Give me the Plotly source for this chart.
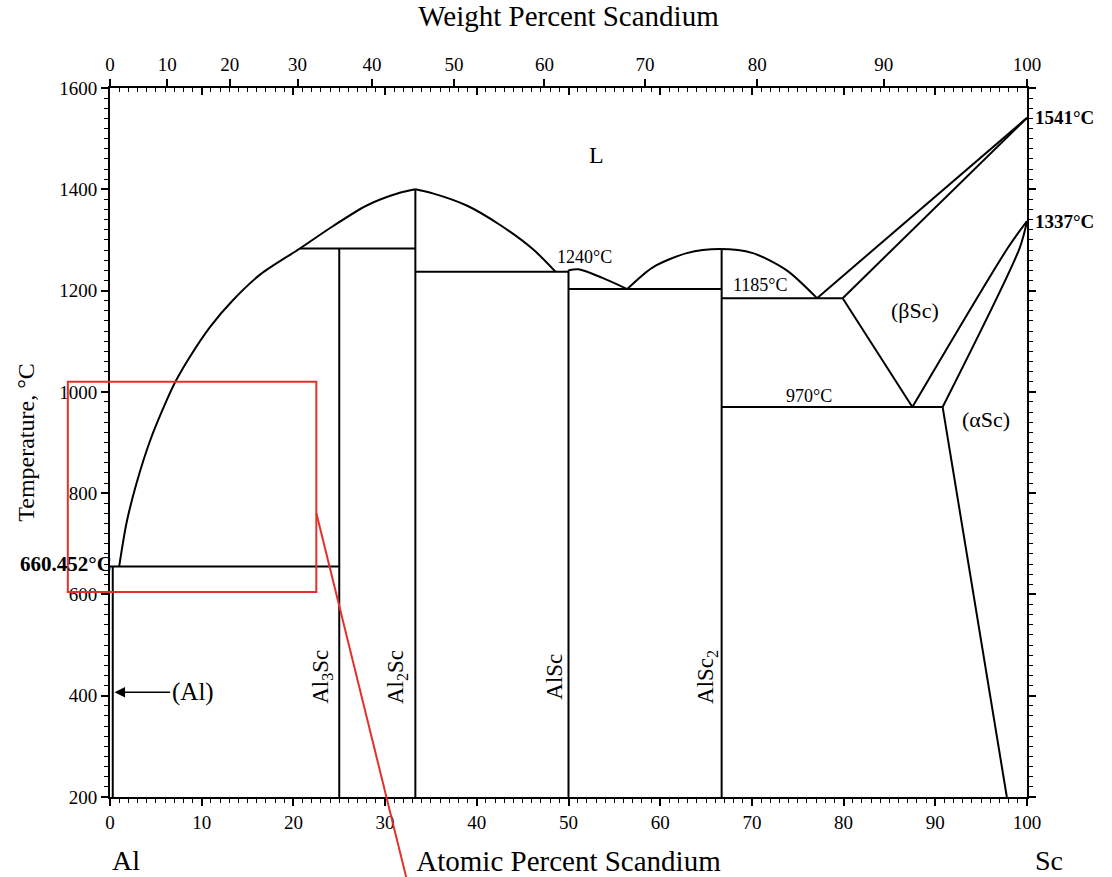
import plotly.graph_objects as go

# ---------------- data (atomic % Sc, temperature °C) ----------------
# Al-rich liquidus up to the Al2Sc maximum
liq_al_x = [1.0, 1.8, 2.9, 4.4, 6.2, 7.1, 8.7, 10.9, 13.4, 16.4, 20.7, 24.3, 28.0, 31.6, 33.3]
liq_al_T = [655, 741, 820, 905, 984, 1019, 1069, 1128, 1181, 1232, 1283, 1327, 1368, 1393, 1400]
# Al2Sc liquidus, Sc-rich side
liq_al2sc_x = [33.3, 35.2, 38.9, 42.5, 46.1, 48.6]
liq_al2sc_T = [1400, 1392, 1368, 1330, 1282, 1237]
# AlSc liquidus
liq_alsc_x = [50.0, 51.1, 53.7, 56.4]
liq_alsc_T = [1240, 1242, 1225, 1203]
# AlSc2 liquidus dome
liq_alsc2_x = [56.4, 59.2, 62.9, 66.5, 70.1, 73.8, 77.1]
liq_alsc2_T = [1203, 1246, 1274, 1282, 1274, 1240, 1185]
# (betaSc) liquidus and solidus
liq_bsc_x = [77.1, 100.0]
liq_bsc_T = [1185, 1541]
sol_bsc_x = [79.9, 100.0]
sol_bsc_T = [1185, 1541]
# (betaSc) solvus toward eutectoid
solv_bsc_x = [79.9, 87.5]
solv_bsc_T = [1185, 970]
# beta/alpha transus boundaries
ba1_x = [87.5, 97.9, 100.0]
ba1_T = [970, 1284, 1337]
ba2_x = [90.8, 99.2, 100.0]
ba2_T = [970, 1284, 1337]
# (alphaSc) solvus
solv_asc_x = [90.8, 97.8]
solv_asc_T = [970, 200]
# (Al) solvus
solv_al_x = [0.3, 0.3]
solv_al_T = [200, 655]

# invariant isotherms: start x, end x, temperature
iso_x0 = [0.0, 20.7, 33.3, 50.0, 66.7, 66.7]
iso_x1 = [25.0, 33.3, 50.0, 66.7, 79.9, 90.8]
iso_T = [655, 1283, 1237, 1203, 1185, 970]

# line compounds: composition, top temperature
cmp_x = [25.0, 33.3, 50.0, 66.7]
cmp_Ttop = [1283, 1400, 1240, 1282]
cmp_names = ["Al<sub>3</sub>Sc", "Al<sub>2</sub>Sc", "AlSc", "AlSc<sub>2</sub>"]
cmp_label_x = [23.1, 31.3, 48.5, 65.1]
cmp_label_T = [437, 437, 437, 437]

# region / point labels
lab_text = ["L", "1240°C", "1185°C", "970°C", "(βSc)", "(αSc)"]
lab_x = [53.1, 51.7, 70.9, 76.2, 87.8, 95.5]
lab_T = [1468, 1266, 1211, 992, 1160, 946]
lab_size = [24, 18, 18, 18, 22, 22]

# axis ticks
wt_ticks = [0, 10, 20, 30, 40, 50, 60, 70, 80, 90, 100]
AW_AL, AW_SC = 26.982, 44.956

# zoom-box (annotation overlay)
box_at = [-4.6, 22.5]
box_T = [605, 1020]
pointer_at = [22.5, 32.3]

FONT = "Liberation Serif"
X_MIN, X_MAX = 0, 100
T_MIN, T_MAX = 200, 1600


def wt_to_at(w):
    a = w / AW_SC
    b = (100 - w) / AW_AL
    return 100 * a / (a + b)


def seg_lines(xs0, xs1, ys0, ys1):
    xx, yy = [], []
    for a, b, c, d in zip(xs0, xs1, ys0, ys1):
        xx += [a, b, None]
        yy += [c, d, None]
    return xx, yy


fig = go.Figure()


def add(x, y, name, smooth=False):
    ln = dict(color="black", width=2)
    if smooth:
        ln.update(shape="spline", smoothing=0.8)
    fig.add_trace(go.Scatter(x=x, y=y, mode="lines", line=ln, name=name,
                             showlegend=False, hoverinfo="skip"))


add(liq_al_x, liq_al_T, "liquidus Al side", True)
add(liq_al2sc_x, liq_al2sc_T, "liquidus Al2Sc", True)
add(liq_alsc_x, liq_alsc_T, "liquidus AlSc", True)
add(liq_alsc2_x, liq_alsc2_T, "liquidus AlSc2", True)
add(liq_bsc_x, liq_bsc_T, "liquidus bSc")
add(sol_bsc_x, sol_bsc_T, "solidus bSc")
add(solv_bsc_x, solv_bsc_T, "solvus bSc")
add(ba1_x, ba1_T, "b/a 1", True)
add(ba2_x, ba2_T, "b/a 2", True)
add(solv_asc_x, solv_asc_T, "solvus aSc")
add(solv_al_x, solv_al_T, "solvus Al")
ix, iy = seg_lines(iso_x0, iso_x1, iso_T, iso_T)
add(ix, iy, "isotherms")
cx, cy = seg_lines(cmp_x, cmp_x, [T_MIN] * len(cmp_x), cmp_Ttop)
add(cx, cy, "compounds")

# invisible helper traces so the top axes get drawn
for ax in ["x2", "x3"]:
    fig.add_trace(go.Scatter(x=[X_MIN, X_MAX], y=[T_MIN, T_MIN], xaxis=ax, yaxis="y",
                             mode="lines", line=dict(width=0), opacity=0,
                             showlegend=False, hoverinfo="skip"))

tickfont = dict(family=FONT, size=19, color="black")

fig.update_layout(
    width=1112, height=877,
    margin=dict(l=110, r=85, t=88, b=80),
    paper_bgcolor="white", plot_bgcolor="white",
    font=dict(family=FONT, color="black"),
    xaxis=dict(
        range=[X_MIN, X_MAX], tickmode="linear", tick0=0, dtick=10, automargin=False,
        ticks="outside", ticklen=7, tickwidth=1.5, tickcolor="black",
        minor=dict(tickmode="linear", tick0=0, dtick=1, ticklen=4, tickwidth=1,
                   tickcolor="black", ticks="outside"),
        showline=True, linewidth=2, linecolor="black", mirror=True,
        showgrid=False, zeroline=False, tickfont=tickfont,
        title=dict(text="Atomic Percent Scandium", font=dict(family=FONT, size=29), standoff=22),
    ),
    xaxis2=dict(
        overlaying="x", side="top", anchor="y", range=[X_MIN, X_MAX], automargin=False,
        tickmode="array", tickvals=[wt_to_at(w) for w in wt_ticks],
        ticktext=[str(w) for w in wt_ticks],
        ticks="outside", ticklen=8, tickwidth=1.5, tickcolor="black",
        showgrid=False, zeroline=False, showline=False, tickfont=tickfont,
        title=dict(text="Weight Percent Scandium", font=dict(family=FONT, size=29), standoff=20),
    ),
    xaxis3=dict(
        overlaying="x", side="top", anchor="y", range=[X_MIN, X_MAX], automargin=False,
        tickmode="linear", tick0=0, dtick=10, ticks="inside", ticklen=7, tickwidth=1.5,
        tickcolor="black",
        minor=dict(tickmode="linear", tick0=0, dtick=1, ticklen=4, tickwidth=1,
                   tickcolor="black", ticks="inside"),
        showticklabels=False, showgrid=False, zeroline=False, showline=False,
    ),
    yaxis=dict(
        range=[T_MIN, T_MAX], tickmode="linear", tick0=200, dtick=200, automargin=False,
        ticks="outside", ticklen=7, tickwidth=1.5, tickcolor="black",
        minor=dict(tickmode="linear", tick0=200, dtick=20, ticklen=4, tickwidth=1,
                   tickcolor="black", ticks="outside"),
        showline=True, linewidth=2, linecolor="black", mirror="ticks",
        showgrid=False, zeroline=False, tickfont=tickfont,
        title=dict(text="Temperature, °C", font=dict(family=FONT, size=24), standoff=18),
    ),
)

ann = []
for t, x, y, s in zip(lab_text, lab_x, lab_T, lab_size):
    ann.append(dict(x=x, y=y, xref="x", yref="y", text=t, showarrow=False,
                    font=dict(family=FONT, size=s, color="black")))
for t, x, y in zip(cmp_names, cmp_label_x, cmp_label_T):
    ann.append(dict(x=x, y=y, xref="x", yref="y", text=t, showarrow=False, textangle=-90,
                    font=dict(family=FONT, size=23, color="black")))
# temperature marks outside the frame
ann.append(dict(x=0.004, y=660.452, xref="paper", yref="y", text="<b>660.452°C</b>",
                xanchor="right", yanchor="middle", showarrow=False,
                font=dict(family=FONT, size=21, color="black")))
ann.append(dict(x=1.006, y=1541, xref="paper", yref="y", text="<b>1541°C</b>",
                xanchor="left", yanchor="middle", showarrow=False,
                font=dict(family=FONT, size=19, color="black")))
ann.append(dict(x=1.006, y=1337, xref="paper", yref="y", text="<b>1337°C</b>",
                xanchor="left", yanchor="middle", showarrow=False,
                font=dict(family=FONT, size=19, color="black")))
# (Al) with arrow to the Al axis
ann.append(dict(x=0.5, y=407, xref="x", yref="y", text="(Al)", showarrow=True,
                ax=78, ay=0, arrowhead=2, arrowsize=1.4, arrowwidth=1.5, arrowcolor="black",
                font=dict(family=FONT, size=25, color="black")))
# element labels under the axis
ann.append(dict(x=0.017, y=-0.089, xref="paper", yref="paper", text="Al", showarrow=False,
                xanchor="center", yanchor="middle",
                font=dict(family=FONT, size=28, color="black")))
ann.append(dict(x=1.024, y=-0.089, xref="paper", yref="paper", text="Sc", showarrow=False,
                xanchor="center", yanchor="middle",
                font=dict(family=FONT, size=28, color="black")))
fig.update_layout(annotations=ann)

# red zoom box and pointer (overlay, not data)
span = X_MAX - X_MIN
bx0 = (box_at[0] - X_MIN) / span
bx1 = (box_at[1] - X_MIN) / span
fig.add_shape(type="rect", xref="paper", yref="y", x0=bx0, x1=bx1, y0=box_T[0], y1=box_T[1],
              line=dict(color="#e2312b", width=2), fillcolor="rgba(0,0,0,0)")
fig.add_shape(type="line", xref="x", yref="paper", x0=pointer_at[0], x1=pointer_at[1],
              y0=0.4006, y1=-0.113, line=dict(color="#e2312b", width=2))

fig.write_html("out.html")
